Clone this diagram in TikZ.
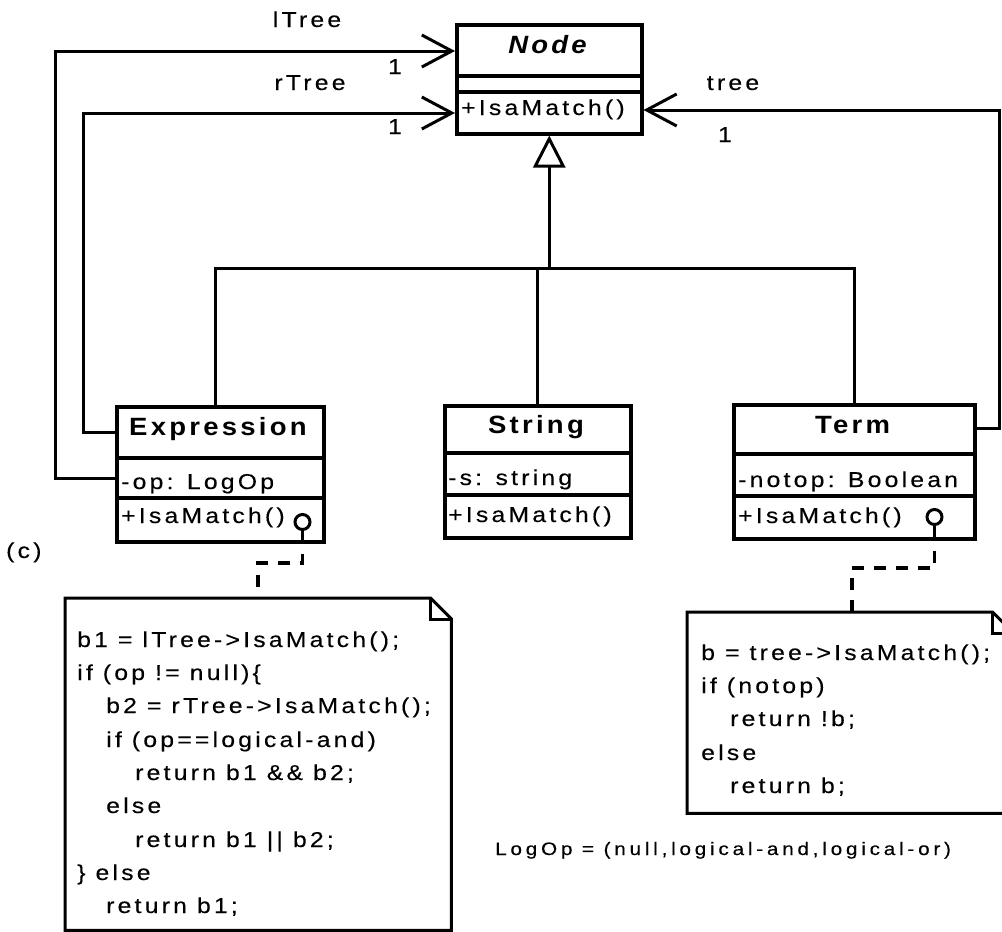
\documentclass[tikz,border=0pt]{standalone}
\usepackage{fontspec}
\setmainfont{Liberation Sans}
\newfontfamily\umlf[LetterSpace=15,FakeStretch=1.15,FakeBold=0.3]{Liberation Sans}
\newfontfamily\umlh[LetterSpace=13,FakeStretch=1.1]{Liberation Sans}
\newfontfamily\umlw[LetterSpace=21,FakeStretch=1.15,FakeBold=0.3]{Liberation Sans}
\usetikzlibrary{arrows.meta}
\begin{document}
\begin{tikzpicture}[x=1pt,y=-1pt,
  box/.style={draw, line width=3.5pt, inner sep=0pt, anchor=north west},
  sep/.style={line width=3.5pt},
  txt/.style={inner sep=0pt, anchor=base west, font=\umlf\fontsize{21.5}{26}\selectfont},
  lbl/.style={inner sep=0pt, anchor=base, font=\umlf\fontsize{21.5}{26}\selectfont},
  hdr/.style={inner sep=0pt, anchor=base, font=\umlh\bfseries\fontsize{25}{30}\selectfont},
  conn/.style={line width=3pt},
  assoc/.style={conn, -{Straight Barb[length=30pt,width=32pt]}},
  gen/.style={conn, -{Triangle[open,length=32pt,width=32pt]}},
  dashline/.style={line width=3.5pt, dash pattern=on 12pt off 10pt, dash phase=12pt},
  notebox/.style={draw=none, inner sep=0pt, anchor=north west},
  noteline/.style={line width=3pt, line join=miter},
  lolli/.style={line width=3pt}
]
\useasboundingbox (0,0) rectangle (1002,932);
\clip (0,0) rectangle (1002,932);

% ---- Node class
\node[box, minimum width=185pt, minimum height=109pt] (nodecls) at (455,23) {};
\draw[sep] (nodecls.west |- 0,76) -- (nodecls.east |- 0,76);
\draw[sep] (nodecls.west |- 0,92) -- (nodecls.east |- 0,92);
\node[hdr] (nodename) at (547.5,53) {\itshape Node};
\node[txt] (nodeop) at (461,115) {+IsaMatch()};

% ---- Expression class
\node[box, minimum width=207pt, minimum height=135pt] (expr) at (115,405) {};
\draw[sep] (expr.west |- 0,458) -- (expr.east |- 0,458);
\draw[sep] (expr.west |- 0,498) -- (expr.east |- 0,498);
\node[hdr] (exprname) at (218,435) {Expression};
\node[txt] (exprattr) at (121,489) {-op: LogOp};
\node[txt] (exprop) at (121,523) {+IsaMatch()};
\draw[lolli] (302.5,522) circle (7.5pt);
\draw[lolli] (302.5,529.5) -- (expr.south -| 302.5,0);

% ---- String class
\node[box, minimum width=186pt, minimum height=132pt] (strc) at (443,404) {};
\draw[sep] (strc.west |- 0,453) -- (strc.east |- 0,453);
\draw[sep] (strc.west |- 0,495) -- (strc.east |- 0,495);
\node[hdr] (strname) at (536,433) {String};
\node[txt] (strattr) at (448,485) {-s: string};
\node[txt] (strop) at (448,522) {+IsaMatch()};

% ---- Term class
\node[box, minimum width=241pt, minimum height=134pt] (term) at (732,403) {};
\draw[sep] (term.west |- 0,454) -- (term.east |- 0,454);
\draw[sep] (term.west |- 0,496) -- (term.east |- 0,496);
\node[hdr] (termname) at (852.5,433) {Term};
\node[txt] (termattr) at (738,487) {-notop: Boolean};
\node[txt] (termop) at (738,523) {+IsaMatch()};
\draw[lolli] (934.5,517) circle (7.5pt);
\draw[lolli] (934.5,524.5) -- (term.south -| 934.5,0);

% ---- Generalization
\draw[conn] ([xshift=-5pt]expr.north) |- (term.north |- 0,268) -- (term.north);
\draw[conn] (strc.north) -- (strc.north |- 0,268);
\draw[gen] (nodecls.south |- 0,268) -- (nodecls.south);

% ---- Associations
\draw[assoc] (expr.west |- 0,478) -- (55,478) |- (nodecls.west |- 0,51);
\draw[assoc] (expr.west |- 0,432) -- (83,432) |- (nodecls.west |- 0,113);
\draw[assoc] (term.east |- 0,428) -- (999,428) |- (nodecls.east |- 0,110);
\node[lbl] (ltreelbl) at (307,27) {lTree};
\node[lbl] (ltreemul) at (395,74) {1};
\node[lbl] (rtreelbl) at (310,90) {rTree};
\node[lbl] (rtreemul) at (395,134) {1};
\node[lbl] (treelbl) at (733,90) {tree};
\node[lbl] (treemul) at (725,142) {1};

% ---- (c)
\node[txt] (clabel) at (6,558) {(c)};

% ---- Expression note
\node[notebox, minimum width=386pt, minimum height=332pt] (enote) at (65,598) {};
\draw[noteline] (enote.north west) -- ([xshift=-21pt]enote.north east)
  -- ([yshift=-21pt]enote.north east) -- (enote.south east) -- (enote.south west) -- cycle;
\draw[noteline] ([xshift=-21pt]enote.north east) -- ([xshift=-21pt,yshift=-21pt]enote.north east)
  -- ([yshift=-21pt]enote.north east);
\node[txt] (e1) at (77,647) {b1 = lTree->IsaMatch();};
\node[txt] (e2) at (77,680) {if (op != null)\{};
\node[txt] (e3) at (106,713) {b2 = rTree->IsaMatch();};
\node[txt] (e4) at (106,747) {if (op==logical-and)};
\node[txt] (e5) at (135,780) {return b1 \&\& b2;};
\node[txt] (e6) at (106,813) {else};
\node[txt] (e7) at (135,847) {return b1 || b2;};
\node[txt] (e8) at (77,880) {\} else};
\node[txt] (e9) at (106,913) {return b1;};
\draw[dashline] (expr.south -| 302.5,0) -- (302.5,563) -| (enote.north -| 258,0);

% ---- Term note
\node[notebox, minimum width=326pt, minimum height=201pt] (tnote) at (687,612) {};
\draw[noteline] (tnote.north west) -- ([xshift=-21pt]tnote.north east)
  -- ([yshift=-21pt]tnote.north east) -- (tnote.south east) -- (tnote.south west) -- cycle;
\draw[noteline] ([xshift=-21pt]tnote.north east) -- ([xshift=-21pt,yshift=-21pt]tnote.north east)
  -- ([yshift=-21pt]tnote.north east);
\node[txt] (t1) at (701,660) {b = tree->IsaMatch();};
\node[txt] (t2) at (701,693) {if (notop)};
\node[txt] (t3) at (730,726) {return !b;};
\node[txt] (t4) at (701,760) {else};
\node[txt] (t5) at (730,793) {return b;};
\draw[dashline] (term.south -| 934.5,0) -- (934.5,568) -| (tnote.north -| 852,0);

% ---- LogOp definition
\node[inner sep=0pt, anchor=base west, font=\umlw\fontsize{18}{22}\selectfont] (logop) at (495,855)
  {LogOp = (null,logical-and,logical-or)};
\end{tikzpicture}
\end{document}
